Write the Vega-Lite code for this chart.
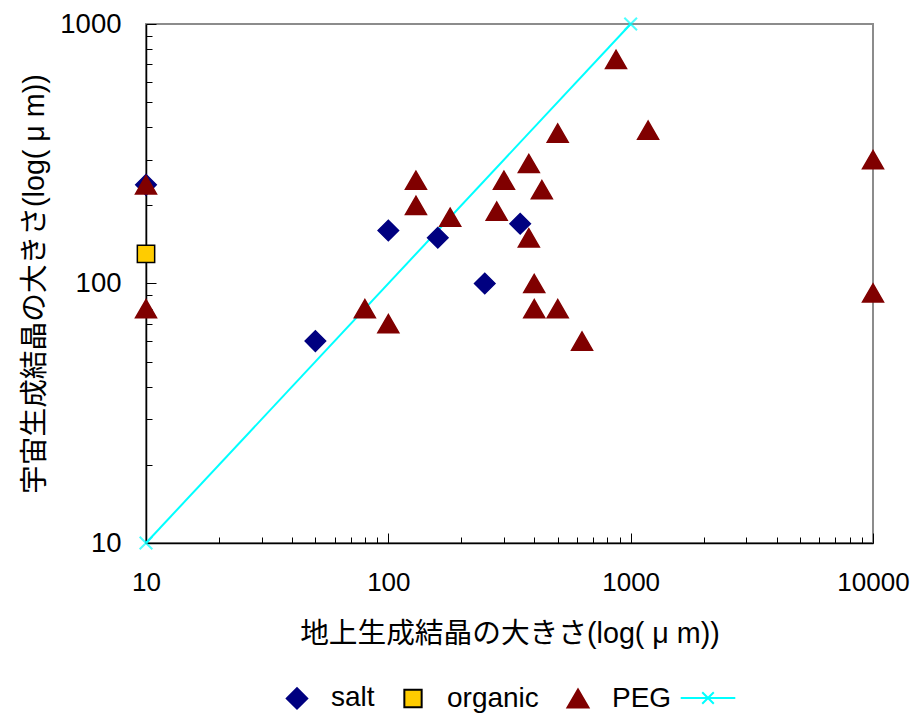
{
  "$schema": "https://vega.github.io/schema/vega-lite/v6.json",
  "width": 727,
  "height": 519,
  "autosize": {"type": "none"},
  "padding": {"left": 146, "top": 24, "right": 42, "bottom": 171},
  "background": "white",
  "config": {
    "font": "Liberation Sans, Noto Sans CJK JP, sans-serif",
    "view": {"stroke": "#8c8c8c", "strokeWidth": 2},
    "axis": {
      "grid": false,
      "domainColor": "#000000",
      "domainWidth": 1.5,
      "tickColor": "#000000",
      "tickWidth": 1,
      "labelColor": "#000000",
      "labelFont": "Liberation Sans",
      "labelFontSize": 26,
      "labelFlush": false,
      "labelOverlap": false,
      "titleFont": "Liberation Sans, Noto Sans CJK JP",
      "titleFontSize": 28.7,
      "titleFontWeight": "normal",
      "titleColor": "#000000"
    },
    "legend": {
      "labelFont": "Liberation Sans",
      "labelColor": "#000000"
    }
  },
  "datasets": {
    "crystals": [
      {"series": "salt", "ground": 10, "space": 240},
      {"series": "salt", "ground": 50, "space": 60},
      {"series": "salt", "ground": 100, "space": 160},
      {"series": "salt", "ground": 160, "space": 150},
      {"series": "salt", "ground": 250, "space": 100},
      {"series": "salt", "ground": 350, "space": 170},
      {"series": "organic", "ground": 10, "space": 130},
      {"series": "PEG", "ground": 10, "space": 240},
      {"series": "PEG", "ground": 10, "space": 80},
      {"series": "PEG", "ground": 80, "space": 80},
      {"series": "PEG", "ground": 100, "space": 70},
      {"series": "PEG", "ground": 130, "space": 250},
      {"series": "PEG", "ground": 130, "space": 200},
      {"series": "PEG", "ground": 180, "space": 180},
      {"series": "PEG", "ground": 280, "space": 190},
      {"series": "PEG", "ground": 300, "space": 250},
      {"series": "PEG", "ground": 380, "space": 290},
      {"series": "PEG", "ground": 380, "space": 150},
      {"series": "PEG", "ground": 430, "space": 230},
      {"series": "PEG", "ground": 500, "space": 380},
      {"series": "PEG", "ground": 400, "space": 100},
      {"series": "PEG", "ground": 400, "space": 80},
      {"series": "PEG", "ground": 500, "space": 80},
      {"series": "PEG", "ground": 630, "space": 60},
      {"series": "PEG", "ground": 870, "space": 730},
      {"series": "PEG", "ground": 1180, "space": 390},
      {"series": "PEG", "ground": 10000, "space": 300},
      {"series": "PEG", "ground": 10000, "space": 92},
      {"series": "line", "ground": 10, "space": 10},
      {"series": "line", "ground": 1000, "space": 1000}
    ]
  },
  "data": {"name": "crystals"},
  "encoding": {
    "x": {
      "field": "ground",
      "type": "quantitative",
      "scale": {"type": "log", "domain": [10, 10000], "nice": false},
      "axis": {
        "title": "地上生成結晶の大きさ(log( μ m))",
        "values": [10, 20, 30, 40, 50, 60, 70, 80, 90, 100, 200, 300, 400, 500, 600, 700, 800, 900, 1000, 2000, 3000, 4000, 5000, 6000, 7000, 8000, 9000, 10000],
        "labelExpr": "indexof([10, 100, 1000, 10000], datum.value) >= 0 ? '' + datum.value : ''",
        "tickSize": {"condition": {"test": "indexof([10, 100, 1000, 10000], datum.value) >= 0", "value": -10}, "value": -6},
        "labelPadding": 36,
        "titlePadding": 20
      }
    },
    "y": {
      "field": "space",
      "type": "quantitative",
      "scale": {"type": "log", "domain": [10, 1000], "nice": false},
      "axis": {
        "title": "宇宙生成結晶の大きさ(log( μ m))",
        "values": [10, 20, 30, 40, 50, 60, 70, 80, 90, 100, 200, 300, 400, 500, 600, 700, 800, 900, 1000],
        "labelExpr": "indexof([10, 100, 1000], datum.value) >= 0 ? '' + datum.value : ''",
        "tickSize": {"condition": {"test": "indexof([10, 100, 1000], datum.value) >= 0", "value": -10}, "value": -6},
        "labelFontSize": 27.5,
        "labelPadding": 35,
        "titlePadding": 10
      }
    }
  },
  "layer": [
    {
      "transform": [{"filter": "datum.series === 'line'"}],
      "mark": {"type": "line", "strokeWidth": 2},
      "encoding": {
        "color": {
          "field": "series",
          "type": "nominal",
          "scale": {"range": ["#00FFFF"]},
          "legend": {
            "orient": "none",
            "legendX": 548,
            "legendY": 660,
            "title": null,
            "labelExpr": "''",
            "labelFontSize": 28,
            "symbolType": "M-2.6,0H2.6M-0.55,-0.55L0.55,0.55M-0.55,0.55L0.55,-0.55",
            "symbolSize": 441,
            "symbolStrokeWidth": 2
          }
        }
      }
    },
    {
      "transform": [{"filter": "datum.series === 'line'"}],
      "mark": {
        "type": "point",
        "shape": "M-1,-1L1,1M-1,1L1,-1",
        "filled": false,
        "stroke": "#00FFFF",
        "strokeWidth": 2,
        "size": 160
      }
    },
    {
      "transform": [{"filter": "datum.series !== 'line'"}],
      "mark": {"type": "point", "filled": true, "opacity": 1, "strokeWidth": 1.5},
      "encoding": {
        "shape": {
          "field": "series",
          "type": "nominal",
          "scale": {
            "domain": ["salt", "organic", "PEG"],
            "range": ["diamond", "square", "triangle-up"]
          },
          "legend": {
            "orient": "none",
            "legendX": 137,
            "legendY": 660,
            "direction": "horizontal",
            "title": null,
            "labelFontSize": 28,
            "symbolStrokeWidth": 2,
            "labelOffset": 20,
            "columnPadding": 24
          }
        },
        "fill": {
          "field": "series",
          "type": "nominal",
          "scale": {
            "domain": ["salt", "organic", "PEG"],
            "range": ["#000080", "#FFCC00", "#800000"]
          }
        },
        "stroke": {
          "field": "series",
          "type": "nominal",
          "scale": {
            "domain": ["salt", "organic", "PEG"],
            "range": ["#000080", "#000000", "#800000"]
          }
        },
        "size": {
          "field": "series",
          "type": "nominal",
          "scale": {
            "type": "ordinal",
            "domain": ["salt", "organic", "PEG"],
            "range": [420, 300, 441]
          }
        }
      }
    }
  ]
}
